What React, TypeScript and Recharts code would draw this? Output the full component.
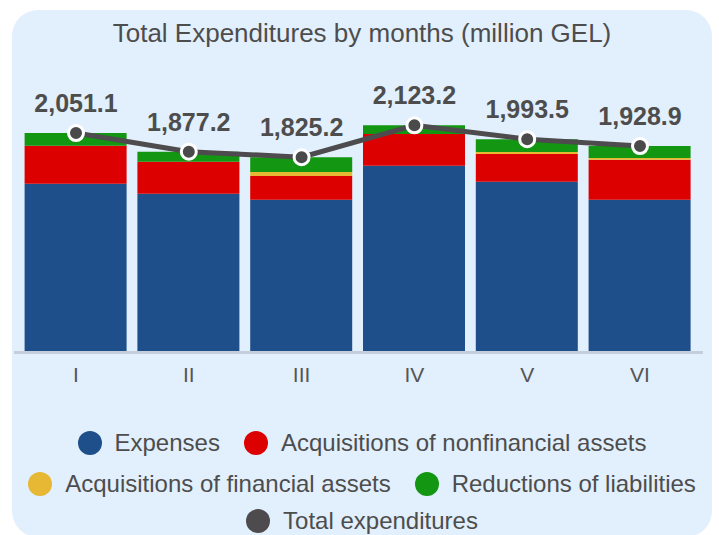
import { ComposedChart, Bar, Line, XAxis, YAxis, LabelList } from 'recharts';

const MONTHS = ['I', 'II', 'III', 'IV', 'V', 'VI'];
const EXPENSES = [1576, 1483, 1427, 1745, 1595, 1427];
const NONFINANCIAL = [356, 300, 222, 297, 259, 375];
const FINANCIAL = [0, 0, 37, 0, 19, 16];
const LIABILITIES = [119.1, 94.2, 139.2, 81.2, 120.5, 110.9];
const TOTAL = [2051.1, 1877.2, 1825.2, 2123.2, 1993.5, 1928.9];

const SERIES = [
  { key: 'expenses', name: 'Expenses', color: '#1e4f8a' },
  { key: 'nonfinancial', name: 'Acquisitions of nonfinancial assets', color: '#dd0000' },
  { key: 'financial', name: 'Acquisitions of financial assets', color: '#e6b834' },
  { key: 'liabilities', name: 'Reductions of liabilities', color: '#139611' },
  { key: 'total', name: 'Total expenditures', color: '#4d4b4d' },
];

// legend is laid out in three centred rows, like the original
const LEGEND_ROWS = [
  ['expenses', 'nonfinancial'],
  ['financial', 'liabilities'],
  ['total'],
];
const LEGEND_TOPS = [430.5, 471.5, 509];

const FONT = "'Liberation Sans', Arial, sans-serif";
const TEXT = '#4d4d4d';

const data = MONTHS.map((month, i) => ({
  month,
  expenses: EXPENSES[i],
  nonfinancial: NONFINANCIAL[i],
  financial: FINANCIAL[i],
  liabilities: LIABILITIES[i],
  total: TOTAL[i],
}));

const fmt = (v: number) =>
  v.toLocaleString('en-US', { minimumFractionDigits: 1, maximumFractionDigits: 1 });

export default function App() {
  return (
    <div
      style={{
        position: 'absolute',
        left: 0,
        top: 0,
        width: 719,
        height: 535,
        overflow: 'hidden',
        background: '#fff',
        fontFamily: FONT,
      }}
    >
      <div
        style={{
          position: 'absolute',
          left: 12,
          top: 10,
          width: 700,
          height: 527,
          borderRadius: 26,
          background: '#e2effc',
        }}
      />
      <div
        style={{
          position: 'absolute',
          left: 12,
          top: 20,
          width: 700,
          textAlign: 'center',
          fontSize: 26,
          lineHeight: '26px',
          color: TEXT,
        }}
      >
        Total Expenditures by months (million GEL)
      </div>

      <div style={{ position: 'absolute', left: 0, top: 0 }}>
        <ComposedChart
          width={719}
          height={400}
          data={data}
          margin={{ top: 85, right: 16, bottom: 17.5, left: 14 }}
        >
          <YAxis hide domain={[0, 2500]} />
          <Bar dataKey="expenses" stackId="a" fill="#1e4f8a" barSize={102} isAnimationActive={false} />
          <Bar dataKey="nonfinancial" stackId="a" fill="#dd0000" barSize={102} isAnimationActive={false} />
          <Bar dataKey="financial" stackId="a" fill="#e6b834" barSize={102} isAnimationActive={false} />
          <Bar dataKey="liabilities" stackId="a" fill="#139611" barSize={102} isAnimationActive={false} />
          <XAxis
            dataKey="month"
            height={30}
            padding={{ left: 5.6, right: 6.6 }}
            axisLine={{ stroke: '#c5cfdb', strokeWidth: 3 }}
            tickLine={false}
            tickMargin={9}
            tick={{ fill: '#555', fontSize: 21, fontFamily: FONT }}
          />
          <Line
            dataKey="total"
            type="linear"
            stroke="#4d4b4d"
            strokeWidth={5}
            dot={{ r: 7.5, fill: '#4a4a4a', stroke: '#fff', strokeWidth: 3 }}
            activeDot={false}
            isAnimationActive={false}
          >
            <LabelList
              dataKey="total"
              position="top"
              offset={21}
              formatter={(v: any) => fmt(Number(v))}
              fill={TEXT}
              fontSize={25}
              fontWeight={700}
              fontFamily={FONT}
            />
          </Line>
        </ComposedChart>
      </div>

      {LEGEND_ROWS.map((row, r) => (
        <div
          key={r}
          style={{
            position: 'absolute',
            left: 12,
            width: 700,
            top: LEGEND_TOPS[r],
            display: 'flex',
            justifyContent: 'center',
            alignItems: 'center',
            gap: 24,
          }}
        >
          {row.map((k) => {
            const s = SERIES.find((x) => x.key === k)!;
            return (
              <div key={k} style={{ display: 'flex', alignItems: 'center' }}>
                <span
                  style={{
                    width: 24,
                    height: 24,
                    borderRadius: 12,
                    background: s.color,
                    marginRight: 13,
                  }}
                />
                <span style={{ fontSize: 24, lineHeight: '24px', color: TEXT, whiteSpace: 'nowrap' }}>
                  {s.name}
                </span>
              </div>
            );
          })}
        </div>
      ))}
    </div>
  );
}
